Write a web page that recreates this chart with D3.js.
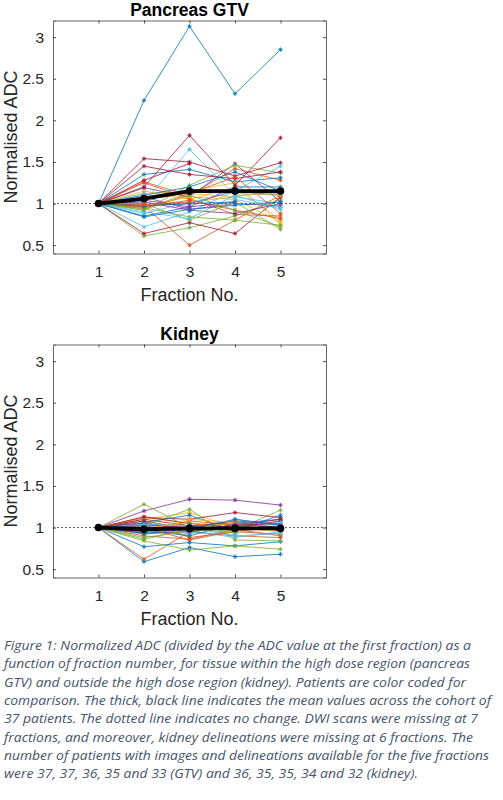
<!DOCTYPE html>
<html>
<head>
<meta charset="utf-8">
<script src="https://cdn.jsdelivr.net/npm/d3@7"></script>
<style>
  body { margin: 0; background: #fff; }
  svg { display: block; }
</style>
</head>
<body>
<div id="canvas"></div>
<script>
// figure size
const svgWidth = 503;
const svgHeight = 800;

// fractions on the x axis
const fractions = [1, 2, 3, 4, 5];
const xTicks = [1, 2, 3, 4, 5];
const yTicks = [0.5, 1, 1.5, 2, 2.5, 3];

// MATLAB default colour order, patients cycle through it
const colorOrder = ['#0072BD', '#D95319', '#EDB120', '#7E2F8E', '#77AC30', '#4DBEEE', '#A2142F'];

// normalised ADC per patient, pancreas GTV (null = missing fraction)
const gtvPatients = [
    [1, 2.24, 3.13, 2.32, 2.85],
    [1, 1.26, 1.10, 1.42, 1.28],
    [1, 1.15, 1.05, 1.20, 0.80],
    [1, 1.19, 1.08, 1.48, 1.02],
    [1, 0.92, 1.22, 1.46, 1.37],
    [1, 1.02, 1.65, 1.10, 0.93],
    [1, 1.54, 1.50, 1.33, 1.49],
    [1, 1.35, 1.41, 1.26, 1.31],
    [1, 0.97, 0.50, 0.80, 1.10],
    [1, 1.12, 1.15, 1.25, 0.75],
    [1, 1.08, 0.93, 1.00, 0.97],
    [1, 0.61, 0.71, 0.85, 1.05],
    [1, 0.72, 0.90, 1.15, 1.45],
    [1, 1.45, 1.35, 1.30, 1.38],
    [1, 0.85, 0.96, 1.20, 1.20],
    [1, 1.25, 1.06, 0.87, 0.85],
    [1, 1.05, 1.12, 1.08, 1.18],
    [1, 0.98, 1.00, 1.15, 1.10],
    [1, 0.95, 0.84, 0.80, 0.74],
    [1, 0.88, 1.02, 1.08, 1.00],
    [1, 0.64, 0.77, 0.64, 1.08],
    [1, 1.10, 1.20, 1.38, 1.15],
    [1, 0.94, 1.12, 1.32, 0.88],
    [1, 0.97, 1.08, 1.05, 0.78],
    [1, 1.02, 0.92, 0.88, 1.00],
    [1, 1.00, 0.80, 1.02, 0.69],
    [1, 0.90, 0.82, 1.10, 1.12],
    [1, 1.20, 1.82, 1.22, 1.79],
    [1, 0.84, 0.93, 0.98, 1.02],
    [1, 0.96, 1.04, 0.92, 0.82],
    [1, 1.08, 1.14, 1.12, 1.10],
    [1, 1.04, 0.96, 1.02, null],
    [1, 0.93, 1.10, 0.92, 0.72],
    [1, 1.12, null, 1.05, 0.95],
    [1, 1.28, 1.48, null, null],
    [1, 0.97, 1.00, 1.02, null],
    [1, 0.99, 1.02, null, null]
];
const gtvMean = [1, 1.06, 1.15, 1.15, 1.15];

// normalised ADC per patient, kidney
const kidneyPatients = [
    [1, 0.59, 0.76, 0.65, 0.68],
    [1, 0.62, 0.95, 0.90, 0.88],
    [1, 1.10, 1.18, 1.00, 0.95],
    [1, 1.20, 1.34, 1.33, 1.27],
    [1, 1.28, 1.00, 0.97, 1.21],
    [1, 0.95, 0.92, 1.10, 1.02],
    [1, 1.12, 1.10, 1.18, 1.12],
    [1, 0.77, 0.82, 0.78, 0.83],
    [1, 1.08, 0.88, 0.95, 0.92],
    [1, 1.05, 1.02, 1.08, 0.98],
    [1, 1.08, 0.98, 1.02, 1.05],
    [1, 0.84, 0.73, 0.78, 0.74],
    [1, 0.92, 0.96, 0.88, 0.95],
    [1, 1.10, 1.02, 1.06, 1.00],
    [1, 1.06, 1.15, 0.96, 1.15],
    [1, 0.90, 0.86, 0.98, 0.90],
    [1, 1.12, 1.05, 1.03, 1.02],
    [1, 0.93, 0.95, 1.00, 0.97],
    [1, 1.02, 1.22, 0.85, 0.84],
    [1, 1.00, 0.94, 0.92, 1.08],
    [1, 1.13, 1.05, 1.00, 1.08],
    [1, 0.97, 0.90, 1.05, 1.10],
    [1, 0.94, 1.08, 1.03, 0.96],
    [1, 0.99, 1.06, 0.97, 1.00],
    [1, 1.03, 1.00, 1.08, 1.04],
    [1, 0.88, 0.96, 1.02, 0.98],
    [1, 0.96, 1.00, 0.90, 0.93],
    [1, 1.05, 0.97, 1.02, 1.10],
    [1, 0.93, 0.98, 1.10, 1.03],
    [1, 1.00, 0.85, 0.96, 1.00],
    [1, 0.97, 1.10, 1.06, null],
    [1, 1.02, 0.95, 1.04, 1.00],
    [1, 0.86, 0.98, 0.94, null],
    [1, 1.04, 1.02, null, 1.06],
    [1, 0.95, null, 0.98, null],
    [1, null, 1.04, null, null]
];
const kidneyMean = [1, 0.98, 0.99, 0.99, 0.99];

// caption, broken as in the figure
const captionLines = [
    'Figure 1: Normalized ADC (divided by the ADC value at the first fraction) as a',
    'function of fraction number, for tissue within the high dose region (pancreas',
    'GTV) and outside the high dose region (kidney). Patients are color coded for',
    'comparison. The thick, black line indicates the mean values across the cohort of',
    '37 patients. The dotted line indicates no change. DWI scans were missing at 7',
    'fractions, and moreover, kidney delineations were missing at 6 fractions. The',
    'number of patients with images and delineations available for the five fractions',
    'were 37, 37, 36, 35 and 33 (GTV) and 36, 35, 35, 34 and 32 (kidney).'
];
const captionWidths = [467, 466, 462, 487, 474, 469, 485, 414];

const svg = d3.select('#canvas').append('svg')
    .attr('width', svgWidth)
    .attr('height', svgHeight);

const axisColor = '#262626';
const chartFont = "'Liberation Sans', Arial, sans-serif";

function asterisk(g, cx, cy, color) {
    const r = 2.2;
    const d = r * 0.72;
    g.append('path')
        .attr('d', `M${cx - r},${cy}H${cx + r}M${cx},${cy - r}V${cy + r}` +
            `M${cx - d},${cy - d}L${cx + d},${cy + d}M${cx - d},${cy + d}L${cx + d},${cy - d}`)
        .attr('stroke', color)
        .attr('stroke-width', 0.8)
        .attr('fill', 'none');
}

// one panel of the figure
function drawPanel(top, title, patients, meanValues) {
    const left = 53, right = 326, bottom = top + 233;
    const x = d3.scaleLinear().domain([0, 6]).range([left, right]);
    const y = d3.scaleLinear().domain([0.4, 3.2]).range([bottom, top]);
    const g = svg.append('g');

    // dotted "no change" line
    g.append('line')
        .attr('x1', x(0)).attr('x2', x(6))
        .attr('y1', y(1)).attr('y2', y(1))
        .attr('stroke', '#333')
        .attr('stroke-width', 0.8)
        .attr('stroke-dasharray', '2,2');

    const line = d3.line()
        .defined(d => d.v !== null)
        .x(d => x(d.f))
        .y(d => y(d.v));

    patients.forEach((vals, i) => {
        const color = colorOrder[i % colorOrder.length];
        const pts = fractions.map((f, j) => ({ f: f, v: vals[j] }));
        g.append('path')
            .datum(pts)
            .attr('d', line)
            .attr('fill', 'none')
            .attr('stroke', color)
            .attr('stroke-width', 0.8);
        pts.filter(p => p.v !== null).forEach(p => asterisk(g, x(p.f), y(p.v), color));
    });

    // mean across cohort
    const meanPts = fractions.map((f, j) => ({ f: f, v: meanValues[j] }));
    g.append('path')
        .datum(meanPts)
        .attr('d', line)
        .attr('fill', 'none')
        .attr('stroke', '#000')
        .attr('stroke-width', 3.8);
    g.selectAll('.mean-dot')
        .data(meanPts)
        .join('circle')
        .attr('class', 'mean-dot')
        .attr('cx', d => x(d.f))
        .attr('cy', d => y(d.v))
        .attr('r', 3.8)
        .attr('fill', '#000');

    // axes, ticks inside on all four sides
    const tickLen = 3;
    const bottomAxis = d3.axisBottom(x).tickValues(xTicks).tickSize(-tickLen).tickPadding(12).tickFormat(d3.format('d'));
    const topAxis = d3.axisTop(x).tickValues(xTicks).tickSize(-tickLen).tickFormat('');
    const leftAxis = d3.axisLeft(y).tickValues(yTicks).tickSize(-tickLen).tickPadding(9).tickFormat(d3.format('~g'));
    const rightAxis = d3.axisRight(y).tickValues(yTicks).tickSize(-tickLen).tickFormat('');

    const axes = [
        g.append('g').attr('transform', `translate(0,${bottom})`).call(bottomAxis),
        g.append('g').attr('transform', `translate(0,${top})`).call(topAxis),
        g.append('g').attr('transform', `translate(${left},0)`).call(leftAxis),
        g.append('g').attr('transform', `translate(${right},0)`).call(rightAxis)
    ];
    axes.forEach(a => {
        a.select('.domain').attr('stroke', '#666').attr('stroke-width', 1);
        a.selectAll('.tick line').attr('stroke', axisColor).attr('stroke-width', 0.8);
        a.selectAll('.tick text')
            .attr('fill', axisColor)
            .style('font-family', chartFont)
            .style('font-size', '15.5px');
    });

    // title and labels
    g.append('text')
        .attr('x', (left + right) / 2)
        .attr('y', top - 5)
        .attr('text-anchor', 'middle')
        .style('font-family', chartFont)
        .style('font-weight', 'bold')
        .style('font-size', '17.5px')
        .attr('fill', '#000')
        .text(title);

    g.append('text')
        .attr('transform', `translate(17,${(top + bottom) / 2}) rotate(-90)`)
        .attr('text-anchor', 'middle')
        .style('font-family', chartFont)
        .style('font-size', '18px')
        .attr('fill', axisColor)
        .text('Normalised ADC');

    g.append('text')
        .attr('x', (left + right) / 2)
        .attr('y', bottom + 47)
        .attr('text-anchor', 'middle')
        .style('font-family', chartFont)
        .style('font-size', '18px')
        .attr('fill', axisColor)
        .text('Fraction No.');
}

drawPanel(20.5, 'Pancreas GTV', gtvPatients, gtvMean);
drawPanel(344.5, 'Kidney', kidneyPatients, kidneyMean);

// caption
const caption = svg.append('g')
    .style('font-family', "'Open Sans', sans-serif")
    .style('font-style', 'italic')
    .style('font-size', '13px')
    .attr('fill', '#44546A');
captionLines.forEach((t, i) => {
    caption.append('text')
        .attr('x', 4)
        .attr('y', 650 + i * 18.35)
        .attr('textLength', captionWidths[i])
        .attr('lengthAdjust', 'spacingAndGlyphs')
        .text(t);
});
</script>
</body>
</html>
